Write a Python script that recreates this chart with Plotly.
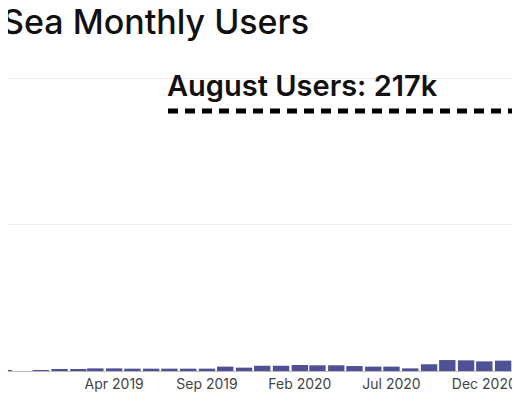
import plotly.graph_objs as go

months = ['2018-10-01', '2018-11-01', '2018-12-01', '2019-01-01', '2019-02-01', '2019-03-01',
          '2019-04-01', '2019-05-01', '2019-06-01', '2019-07-01', '2019-08-01', '2019-09-01',
          '2019-10-01', '2019-11-01', '2019-12-01', '2020-01-01', '2020-02-01', '2020-03-01',
          '2020-04-01', '2020-05-01', '2020-06-01', '2020-07-01', '2020-08-01', '2020-09-01',
          '2020-10-01', '2020-11-01', '2020-12-01', '2021-01-01', '2021-02-01']
users = [200, 0, 500, 700, 700, 1800,
         1800, 1600, 1600, 1600, 1600, 1600,
         3000, 2300, 3600, 3600, 4100, 3900,
         3900, 3400, 3000, 3000, 1800, 4600,
         7500, 7300, 6600, 7100, 17000]

title_text = 'Sea Monthly Users'
august_label = 'August Users: 217k'
august_line_y = 178000

fig = go.Figure(go.Bar(
    x=months,
    y=users,
    marker=dict(color='#4f5196', line=dict(width=0)),
    width=[86400000 * 27] * len(months),
))

fig.update_layout(
    width=520,
    height=400,
    margin=dict(l=0, r=0, t=0, b=37),
    paper_bgcolor='white',
    plot_bgcolor='white',
    showlegend=False,
    font=dict(family='Inter, Noto Sans, sans-serif'),
    xaxis=dict(
        range=['2018-10-08', '2021-02-11'],
        tick0='2018-11-01',
        dtick='M5',
        tickformat='%b %Y',
        tickfont=dict(size=14, color='#444'),
        showgrid=False,
        showline=True,
        linecolor='#bbb',
        ticks='',
    ),
    yaxis=dict(
        range=[0, 248600],
        dtick=100000,
        showticklabels=False,
        gridcolor='#eeeeee',
        zeroline=False,
    ),
    shapes=[dict(
        type='line', xref='paper', yref='y',
        x0=160 / 520, x1=1.0, y0=august_line_y, y1=august_line_y,
        line=dict(color='black', width=5, dash='10px,7px'),
    )],
    annotations=[
        dict(text=title_text, xref='paper', yref='paper',
             x=-8 / 520, y=1.025, xanchor='left', yanchor='top', showarrow=False,
             font=dict(size=34, color='#111', weight=500)),
        dict(text=august_label, xref='paper', yref='y',
             x=157 / 520, y=august_line_y, xanchor='left', yanchor='bottom',
             yshift=6, showarrow=False,
             font=dict(size=29, color='#111', weight=600)),
    ],
)

fig.write_html('out.html')
